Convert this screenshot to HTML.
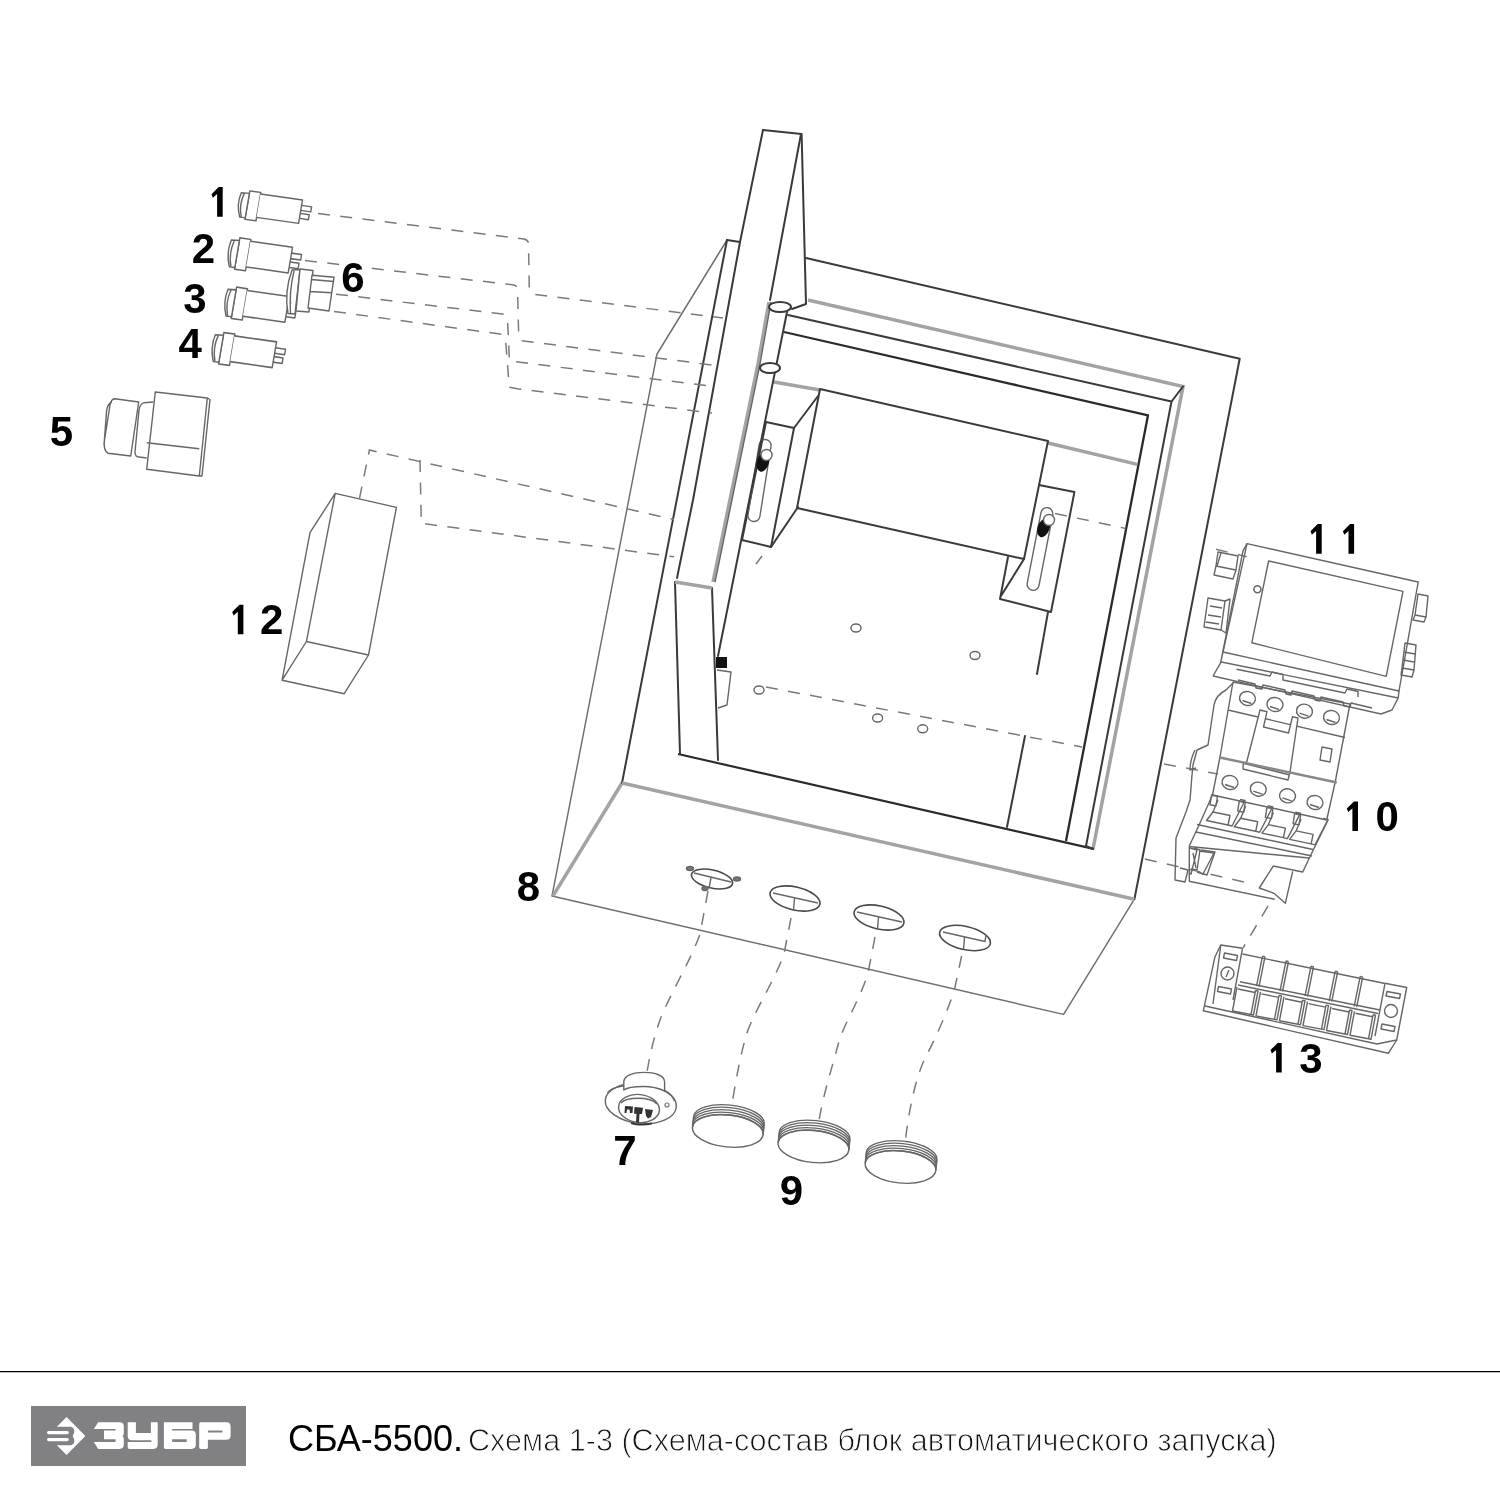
<!DOCTYPE html>
<html><head><meta charset="utf-8">
<style>
html,body{margin:0;padding:0;background:#fff;}
body{width:1500px;height:1500px;position:relative;overflow:hidden;font-family:"Liberation Sans",sans-serif;}
svg{position:absolute;left:0;top:0;will-change:transform}
.l{stroke:#3a3a3a;stroke-width:2;fill:none;stroke-linejoin:round;stroke-linecap:round}
.t{stroke:#666;stroke-width:1.4;fill:none;stroke-linejoin:round}
.k{stroke:#2a2a2a;stroke-width:2.3;fill:none;stroke-linejoin:round}
.g{stroke:#a3a3a3;stroke-width:3.5;fill:none}
.d{stroke:#7a7a7a;stroke-width:1.5;fill:none;stroke-dasharray:12 10.4}
.w{fill:#fff}
.o{stroke:#6e6e6e;stroke-width:1.45;fill:none;stroke-linejoin:round}
.n{font-family:"Liberation Sans",sans-serif;font-weight:bold;font-size:42px;fill:#000}
</style></head><body>
<svg width="1500" height="1500" viewBox="0 0 1500 1500">
<defs><filter id="bl" x="-5%" y="-5%" width="110%" height="110%"><feGaussianBlur stdDeviation="0"/></filter></defs><g>
<path class="l" d="M727,240 L740,242"/>
<path class="o" d="M727,240 L657,354 L552,896 L1063.6,1014.4 L1134.4,899.2"/>
<path class="g" d="M622,783 L553,896"/>
<path class="l" d="M727,240 L622,783"/>
<path class="l" d="M806,258 L1239.7,358.8 L1134.4,899.2"/>
<path class="g" d="M622,783 L1134.4,899.2"/>
<path class="g" d="M808,300 L1183,386.5 L1093,849"/>
<path class="l" d="M788,315 L1171.5,401.5 L1086,846"/>
<path class="k" d="M784,332 L1148,415.3 L1066,841"/>
<path class="k" d="M678,754 L1093.6,848.8"/>
<path class="l" d="M675,582 L680,754 M712,588 L718,760"/>
<path class="g" d="M774,382 L820,390 M1048,443 L1137.3,464.4"/>
<path class="l" d="M820,389 L1048,441 L1024,559 L797,508 Z"/>
<path class="l" d="M818,396 L794,428 M798,507 L771,547"/>
<path class="l" d="M766,422 L794,428 L771,547 L742,540 Z"/>
<rect class="t" x="-6" y="-41.5" width="12" height="83" rx="6" transform="translate(759.5,480.5) rotate(9)"/>
<path class="l" d="M1039,485 L1074.4,492.1 L1051,612 L1000,599 L1008,557 M1024,559 L1001,596 M1048,612 L1037,674"/>
<rect class="t" x="-6" y="-42" width="12" height="84" rx="6" transform="translate(1040,549) rotate(11)"/>
<path class="l" d="M763,130 L801.6,134 L806,304 L792,309"/>
<path class="l" d="M763,130 L740,242 L693,500 L677,578"/>
<path class="l" d="M801,134 L770,300"/>
<path class="g" d="M675,582 L712,588"/>
<path class="g" d="M769,302 L758,364 L713,582"/>
<path class="t" d="M771,302 L760,364 L715,582"/>
<path class="l" d="M787,312 L718,656"/>
<ellipse class="l w" cx="780" cy="307" rx="11" ry="5"/>
<ellipse class="l w" cx="770" cy="368" rx="10" ry="5"/>
<rect x="716" y="657" width="11" height="11" fill="#111"/>
<path class="t" d="M717,670 L731,672 L727,705 L718,708"/>
<ellipse cx="763" cy="462" rx="6" ry="10" fill="#111" transform="rotate(17 763 462)"/>
<circle cx="766.5" cy="455" r="5.5" class="t w"/>
<ellipse cx="1043.5" cy="528" rx="6" ry="9.5" fill="#111" transform="rotate(20 1043.5 528)"/>
<circle cx="1049" cy="520" r="5.5" class="t w"/>
<path class="l" d="M1025,736 L1007,827"/>
<g class="t">
<ellipse cx="856" cy="628" rx="5" ry="4"/>
<ellipse cx="975" cy="655.5" rx="5" ry="4"/>
<ellipse cx="877.6" cy="718" rx="5" ry="4"/>
<ellipse cx="922.7" cy="728.8" rx="5" ry="4"/>
<ellipse cx="759" cy="690" rx="5" ry="4"/>
</g>
<g class="l" style="stroke:#4a4a4a;stroke-width:1.6">
<ellipse cx="712" cy="879" rx="21" ry="9" transform="rotate(13 712 879)"/>
<ellipse cx="795" cy="898.5" rx="25.5" ry="11.5" transform="rotate(13 795 898.5)"/>
<ellipse cx="879" cy="917.5" rx="25.5" ry="11.5" transform="rotate(13 879 917.5)"/>
<ellipse cx="965" cy="938" rx="26" ry="11.5" transform="rotate(13 965 938)"/>
</g>
<g class="t" stroke="#444">
<path d="M773,893 L818,903 M794.5,898.5 L793.5,910"/>
<path d="M857,912 L902,922 M878.5,917.5 L877.5,929"/>
<path d="M943,932 L985,941.5 L986,935 M964.5,937.5 L963.5,949"/>
<path d="M694,873 L731,882 M711,878 L709,888"/>
<ellipse cx="690" cy="868.5" rx="3.5" ry="2" fill="#777"/><ellipse cx="737" cy="879" rx="3.5" ry="2" fill="#777"/><ellipse cx="705" cy="888.5" rx="3" ry="2" fill="#777"/>
</g>
<path class="l" d="M1171.5,401.5 L1183,386.5 M1086,846 L1093,849"/>

<path class="d" d="M318,213.5 L524,239 Q528.5,240 528.5,244 L529.3,289 L532,294 L723,318" />
<path class="d" d="M305,260.5 L514,285 Q517.5,286 517.5,290 L518.7,336 L521.3,340.7 L712,365" />
<path class="d" d="M336,294.2 L502.7,314 Q507,315 507.5,319 L509.3,358 L509.5,361 L714,386.5" />
<path class="d" d="M334,311.5 L500,334 Q505,335 505.5,339 L509.3,387.3 L517.3,388.7 L712,413" />
<path class="d" d="M359.5,498.4 L369.4,450 L674,519.5" />
<path class="d" d="M420,460 L421.3,523.3 L674,556.8" />
<path class="d" d="M766,687 L1082,747" />
<path class="d" d="M1164,764 L1218,774" />
<path class="d" d="M1055,513.5 L1125.6,528.4" />
<path class="d" d="M1216,549.3 L1246.7,556.7" />
<path class="d" d="M1145,859 L1248,883" />
<path class="d" d="M1268,906 L1243,948" />
<path class="d" d="M756,564 L762,556" />
<path class="d" d="M708,891 L700,934 C692,958 667,1000 660,1020 C653,1040 650,1055 647,1072" />
<path class="d" d="M791,918 L784,954 C775,980 752,1015 746,1036 C740,1057 736,1080 732,1104" />
<path class="d" d="M875,937 L868,973 C860,1000 843,1025 838,1045 C832,1068 823,1095 819,1121" />
<path class="d" d="M961.6,956 L954.4,990 C948,1010 935,1040 925,1058 C915,1080 909,1110 905.3,1141" />
<defs>
<g id="lamp">
<path class="w" d="M8,-3 L19,-3 L19,25.5 L8,25.5 Z"/>
<path class="w" d="M0,0 L8,-0.5 L8,24 L2.5,24 Q-3,12 0,0 Z M3,0.5 Q-0.5,12 4,23.5"/>
<path class="w" d="M19,-1.4 L61,-1.4 L61,22 L19,22"/>
<path d="M61,4 L71,4 L71,9 L61,9 M61,12 L70,12 L70,17 L61,17"/>
</g>
</defs>
<g class="t">
<use href="#lamp" transform="matrix(1,0.143,-0.17,1,241.3,192.7)"/>
<use href="#lamp" transform="matrix(1,0.143,-0.17,1,231.3,240) scale(1,1.1)"/>
<use href="#lamp" transform="matrix(1,0.143,-0.17,1,228,289.3) scale(1,1.1)"/>
<use href="#lamp" transform="matrix(1,0.143,-0.17,1,215.3,334.7) scale(1,1.1)"/>
</g>
<g class="t">
<path class="w" d="M292,270 L300,269.5 L295,314 L288,313.5 Q284,292 292,270 Z M294,271 Q289,292 290.5,313"/>
<path class="w" d="M300,269 L313,270.5 L309,312 L296,311 Z"/>
<path class="w" d="M312,275.3 L334,277.3 L329,311 L308,308 Z M311.5,279.5 L333.5,281.5 M310,291.5 L331.5,292.8"/>
</g>
<g class="t">
<path d="M114.7,398.7 L138.7,402 L130.7,456 L108,453.3 Q103,450 104.5,440 L110,405 Q111,399 114.7,398.7 Z M112,402 Q107,404 106.5,412 L104,445"/>
<path d="M144,402.7 L153.3,402 M144,402.7 Q140,404 139,410 L135,452 Q135,457 139,457 L146.7,458"/>
<path d="M155.3,392 L207.3,398 L199.3,476 L146.7,469.3 L155.3,392 Z M207.3,398 L210,399.5 L202,476 L199.3,476 M146.7,442.7 L199.3,448.7"/>
</g>
<path class="t" d="M335.2,493.4 L396.4,507.4 L368.5,655 L306.4,641.5 Z M335.2,493.4 L310,532.6 L282.1,680.2 L306.4,641.5 M282.1,680.2 L344.2,693.7 L368.5,655"/>

<path d="M0,0 L-5.6,0 L-5.6,-22.6 L-9.8,-18.9 L-11.2,-22.4 L-4,-29.6 L0,-29.6 Z" transform="translate(222.7,216.7)" fill="#000"/>
<text class="n" x="191.8" y="263.3">2</text>
<text class="n" x="183.2" y="312.7">3</text>
<text class="n" x="178.5" y="358.0">4</text>
<text class="n" x="49.8" y="446.0">5</text>
<text class="n" x="341.2" y="292.0">6</text>
<text class="n" x="613.2" y="1165.3">7</text>
<text class="n" x="516.7" y="900.6">8</text>
<text class="n" x="779.8" y="1205.3">9</text>
<path d="M0,0 L-5.6,0 L-5.6,-22.6 L-9.8,-18.9 L-11.2,-22.4 L-4,-29.6 L0,-29.6 Z" transform="translate(1358,831)" fill="#000"/>
<text class="n" x="1375.5" y="831.0">0</text>
<path d="M0,0 L-5.6,0 L-5.6,-22.6 L-9.8,-18.9 L-11.2,-22.4 L-4,-29.6 L0,-29.6 Z" transform="translate(1321.7,553.7)" fill="#000"/>
<path d="M0,0 L-5.6,0 L-5.6,-22.6 L-9.8,-18.9 L-11.2,-22.4 L-4,-29.6 L0,-29.6 Z" transform="translate(1354.1,553.7)" fill="#000"/>
<path d="M0,0 L-5.6,0 L-5.6,-22.6 L-9.8,-18.9 L-11.2,-22.4 L-4,-29.6 L0,-29.6 Z" transform="translate(243.4,634.3)" fill="#000"/>
<text class="n" x="259.9" y="634.3">2</text>
<path d="M0,0 L-5.6,0 L-5.6,-22.6 L-9.8,-18.9 L-11.2,-22.4 L-4,-29.6 L0,-29.6 Z" transform="translate(1281.7,1072.5)" fill="#000"/>
<text class="n" x="1299.3" y="1072.5">3</text><g class="t" stroke="#666" stroke-width="1.25">
<path class="t" d="M1247.0,543.6 L1418.2,582.0 L1399.0,691.0 L1223.0,652.0 Z" />
<path class="t" d="M1268.6,561.0 L1403.0,591.4 L1386.2,676.4 L1251.8,642.8 Z" stroke-width="1.9" stroke="#4a4a4a"/>
<path d="M1243,550.8 L1247,543.6 M1243,550.8 L1220.6,662.8 L1223,652 M1221.4,662 L1398.2,698 M1399,691 L1398.2,698 L1392,710 L1381,714 M1213,676 L1381,714 M1220.6,662.8 L1213,676"/>
<path d="M1236.6,669.2 L1270,676 L1272,672 L1283,674.5 L1283,680 L1345,693 L1347,689 L1358,691.5 L1358,697"/>
<path d="M1238,680 L1255,684 L1256,688 L1262,689 L1263,685 L1285,690 L1286,694 L1291,695 L1292,691 L1314,696 L1315,700 L1320,701 L1321,697 L1343,702 L1344,706 L1350,707 L1351,703 L1372,708"/>
<circle cx="1257.4" cy="589.2" r="3.5" stroke-width="1.6"/>
<path class="t" d="M1218.0,552.0 L1238.0,556.0 L1236.0,570.0 L1216.0,566.0 Z" />
<path d="M1216,566 L1214,575 L1233,579 L1236,570 M1221,553 L1217,566"/>
<path class="t" d="M1208.0,598.0 L1225.0,601.0 L1221.0,630.0 L1204.0,627.0 Z" />
<path d="M1210,606 L1222,608 M1208,615 L1221,617 M1206,622 L1219,624 M1225,601 L1230,599 L1226,633 L1221,630"/>
<path class="t" d="M1418.0,594.0 L1428.0,596.0 L1426.0,617.0 L1415.0,615.0 Z" />
<path d="M1415,615 L1413,620 L1424,622 L1426,617"/>
<path class="t" d="M1405.0,643.0 L1416.0,645.0 L1414.0,670.0 L1402.0,668.0 Z" />
<path d="M1402,668 L1401,675 L1412,677 L1414,670 M1404,652 L1415,654 M1403,660 L1414,662"/>
</g>
<g class="t" stroke="#666" stroke-width="1.25">
<path d="M1233,682 L1350,704 M1233,682 L1220,757 L1212.5,795 M1350,704 L1335,783 L1326.7,820"/>
<ellipse cx="1247.5" cy="698.5" rx="8" ry="7" transform="rotate(12 1247.5 698.5)"/>
<path d="M1242.5,700.5 L1251.5,703.5"/>
<ellipse cx="1275" cy="704.5" rx="8" ry="7" transform="rotate(12 1275 704.5)"/>
<path d="M1270,706.5 L1279,709.5"/>
<ellipse cx="1304.5" cy="711.2" rx="8" ry="7" transform="rotate(12 1304.5 711.2)"/>
<path d="M1299.5,713.2 L1308.5,716.2"/>
<ellipse cx="1331.5" cy="717.5" rx="8" ry="7" transform="rotate(12 1331.5 717.5)"/>
<path d="M1326.5,719.5 L1335.5,722.5"/>
<path d="M1228,710 L1345,737.5"/>
<path class="w" d="M1246.7,762 L1260,710 L1267,711.7 L1263.5,727 L1288.5,733 L1292.5,716.7 L1298,718 L1290,772 L1288,780 L1243,769 L1243.3,763.3 Z M1243.3,763.3 L1290,775"/>
<path d="M1220,757.5 L1336.7,782.5" stroke="#888" stroke-width="2.4"/>
<path class="t" d="M1322.0,747.0 L1332.0,749.0 L1330.0,762.0 L1320.0,760.0 Z" />
<ellipse cx="1230" cy="782.5" rx="8" ry="7" transform="rotate(12 1230 782.5)"/>
<path d="M1225,784.5 L1234,787.5"/>
<ellipse cx="1258.3" cy="789.2" rx="8" ry="7" transform="rotate(12 1258.3 789.2)"/>
<path d="M1253.3,791.2 L1262.3,794.2"/>
<ellipse cx="1287.5" cy="795.8" rx="8" ry="7" transform="rotate(12 1287.5 795.8)"/>
<path d="M1282.5,797.8 L1291.5,800.8"/>
<ellipse cx="1315" cy="802.5" rx="8" ry="7" transform="rotate(12 1315 802.5)"/>
<path d="M1310,804.5 L1319,807.5"/>
<path d="M1212.5,795 L1326.7,820"/>
<path d="M1213.0,812.0 L1230.0,815.5 L1228.0,825.0 L1206.5,820.5 Z"/>
<path d="M1240.0,799.5 L1245.0,800.5 L1232.0,826.0 L1228.0,825.0 M1213.0,812.0 L1218.0,800.0"/>
<path d="M1211.5,795.0 L1217.5,796.2 L1216.0,806.0 L1210.0,804.8 Z"/>
<path d="M1240.7,818.3 L1257.7,821.8 L1255.7,831.3 L1234.2,826.8 Z"/>
<path d="M1267.7,805.8 L1272.7,806.8 L1259.7,832.3 L1255.7,831.3 M1240.7,818.3 L1245.7,806.3"/>
<path d="M1239.2,801.3 L1245.2,802.5 L1243.7,812.3 L1237.7,811.1 Z"/>
<path d="M1268.4,824.6 L1285.4,828.1 L1283.4,837.6 L1261.9,833.1 Z"/>
<path d="M1295.4,812.1 L1300.4,813.1 L1287.4,838.6 L1283.4,837.6 M1268.4,824.6 L1273.4,812.6"/>
<path d="M1266.9,807.6 L1272.9,808.8 L1271.4,818.6 L1265.4,817.4 Z"/>
<path d="M1296.1,830.9 L1313.1,834.4 L1311.1,843.9 L1289.6,839.4 Z"/>
<path d="M1323.1,818.4 L1328.1,819.4 L1315.1,844.9 L1311.1,843.9 M1296.1,830.9 L1301.1,818.9"/>
<path d="M1294.6,813.9 L1300.6,815.1 L1299.1,824.9 L1293.1,823.7 Z"/>
<path d="M1197,824.5 L1313,849.5 M1196,832 L1312,856 M1189,846.5 L1309,858 M1328,820 L1313,850.5 L1302.7,872 L1273.3,866 M1273.3,866 L1259.3,888 L1274,893.3 L1285.3,903.3 L1292.7,871.3 M1189.3,846.7 L1189.3,881.3 L1274.7,899.3 M1212.5,795 L1198.3,826.7 L1189,846.5"/>
<path d="M1190,848 L1197,850 L1191,874 L1189,873 M1199,851 L1214,853 L1203,874 L1197,872 M1193,853 L1196,868"/>
<path d="M1234,682 L1226,690 Q1216,695 1214,705 L1208,745 L1197,750 L1193,765 L1192,775 L1190,800 L1186,812 L1176,838 L1175,880 L1185,882 L1188,870 L1180,868"/>
<path d="M1195,750 Q1190,760 1190,770 L1196,768"/>
<path d="M1194,848 L1200,850 L1197,870 L1191,869 M1201,850 L1215,852 L1207,875 L1200,873"/>
</g>
<g class="t" stroke="#666" stroke-width="1.25">
<path d="M1242.5,948.3 L1220.8,945 L1215,956.7 L1203.3,1010.8 L1388.3,1053.3 L1396.7,1040 L1406.7,987.5 L1385,983.3"/>
<path d="M1220.8,945 L1213,1004 M1242.5,948.3 L1233,1000 M1242.5,954 L1385,983.5 M1385,983.3 L1375,1036 M1205,1006 L1377,1044 L1396.7,1040"/>
<path d="M1240,981.7 L1380,1010 M1238,985 L1378,1013.5"/>
<path d="M1262.5,956.1 L1256.5,986.1 M1265.0,956.6 L1259.0,986.6 M1262.5,956.1 L1265.0,956.6"/>
<path d="M1286.0,961.0 L1280.0,991.0 M1288.5,961.5 L1282.5,991.5 M1286.0,961.0 L1288.5,961.5"/>
<path d="M1311.0,966.2 L1305.0,996.2 M1313.5,966.7 L1307.5,996.7 M1311.0,966.2 L1313.5,966.7"/>
<path d="M1335.2,971.2 L1329.2,1001.2 M1337.7,971.7 L1331.7,1001.7 M1335.2,971.2 L1337.7,971.7"/>
<path d="M1360.2,976.4 L1354.2,1006.4 M1362.7,976.9 L1356.7,1006.9 M1360.2,976.4 L1362.7,976.9"/>
<path d="M1237.0,987.0 L1232.5,1011.0 L1251.0,1014.5 L1255.5,990.5 M1255.5,990.5 L1258.0,991.0 L1253.5,1015.0 L1251.0,1014.5 M1238.0,989.0 L1255.0,992.5"/>
<path d="M1260.5,991.9 L1256.0,1015.9 L1274.5,1019.4 L1279.0,995.4 M1279.0,995.4 L1281.5,995.9 L1277.0,1019.9 L1274.5,1019.4 M1261.5,993.9 L1278.5,997.4"/>
<path d="M1284.0,996.7 L1279.5,1020.7 L1298.0,1024.2 L1302.5,1000.2 M1302.5,1000.2 L1305.0,1000.7 L1300.5,1024.7 L1298.0,1024.2 M1285.0,998.7 L1302.0,1002.2"/>
<path d="M1307.5,1001.6 L1303.0,1025.6 L1321.5,1029.1 L1326.0,1005.1 M1326.0,1005.1 L1328.5,1005.6 L1324.0,1029.6 L1321.5,1029.1 M1308.5,1003.6 L1325.5,1007.1"/>
<path d="M1331.0,1006.5 L1326.5,1030.5 L1345.0,1034.0 L1349.5,1010.0 M1349.5,1010.0 L1352.0,1010.5 L1347.5,1034.5 L1345.0,1034.0 M1332.0,1008.5 L1349.0,1012.0"/>
<path d="M1354.5,1011.3 L1350.0,1035.3 L1368.5,1038.8 L1373.0,1014.8 M1373.0,1014.8 L1375.5,1015.3 L1371.0,1039.3 L1368.5,1038.8 M1355.5,1013.3 L1372.5,1016.8"/>
<path class="t" d="M1224.5,953.0 L1237.5,955.5 L1236.5,960.5 L1223.5,958.0 Z" />
<circle cx="1227.5" cy="973.5" r="6.5"/><path d="M1226,977 L1229,970"/>
<path class="t" d="M1218.5,986.5 L1231.5,989.0 L1230.5,994.0 L1217.5,991.5 Z" />
<path class="t" d="M1387.0,991.5 L1400.5,994.0 L1399.5,998.5 L1386.0,996.0 Z" />
<circle cx="1391" cy="1011" r="6.5"/>
<path class="t" d="M1382.0,1024.0 L1395.0,1026.5 L1394.0,1031.5 L1381.0,1029.0 Z" />
</g>
<g class="t" stroke="#666" stroke-width="1.25">
<ellipse class="w" cx="640.8" cy="1103.5" rx="35.7" ry="20" transform="rotate(6 640.8 1103.5)"/>
<path d="M607.5,1093 C612,1086 628,1084.5 642,1085.5 C658,1086.5 672,1092 674.5,1101"/>
<path class="w" d="M623.8,1090 L623.8,1082 C624,1075 634,1072.4 644,1072.4 C655,1072.4 664.6,1075.5 664.6,1082 L664.6,1091 C660,1088 650,1086.5 644,1086.5 C635,1086.5 627,1087.5 623.8,1090 Z"/>
<ellipse class="w" cx="639" cy="1108.5" rx="20.5" ry="14" transform="rotate(6 639 1108.5)"/>
<path d="M621,1103 C626,1097 650,1096 657,1104"/>
</g>
<g fill="#333">
<path d="M625,1106 L633,1106.5 L632.5,1113 L630,1113 L629.5,1109.5 L627,1109.5 L626.5,1113 L624.5,1113 Z"/>
<path d="M634.5,1107 L643,1107.8 L642,1114 L639.5,1114 L639,1122.5 L636,1122.5 L636.5,1114 L634,1113.5 Z"/>
<path d="M645,1109 L653,1110 L651,1117 L648,1118.5 L646,1116 Z"/>
<path d="M631,1122 C637,1124.5 645,1124.5 652,1122.5 L651.5,1124.5 C645,1126 637,1126 631,1124 Z"/>
<circle cx="667" cy="1105" r="2" fill="none" stroke="#777" stroke-width="1.2"/>
</g>
<g class="t" stroke="#666" stroke-width="1.25" transform="translate(728.3,1126) rotate(6)"><path d="M-35.5,-6 A35.5,15 0 0 1 35.5,-6"/><path d="M-35.5,-3.5 A35.5,15 0 0 1 35.5,-3.5"/><path d="M-35.5,-1 A35.5,15 0 0 1 35.5,-1"/><path d="M-35.5,1.5 A35.5,15 0 0 1 35.5,1.5"/><path d="M-35.5,4 A35.5,15 0 0 1 35.5,4"/><path d="M-35.5,-6 L-35.5,5 M35.5,-6 L35.5,5"/><ellipse cx="0" cy="5" rx="35.5" ry="16"/></g>
<g class="t" stroke="#666" stroke-width="1.25" transform="translate(814,1141.5) rotate(6)"><path d="M-35.5,-6 A35.5,15 0 0 1 35.5,-6"/><path d="M-35.5,-3.5 A35.5,15 0 0 1 35.5,-3.5"/><path d="M-35.5,-1 A35.5,15 0 0 1 35.5,-1"/><path d="M-35.5,1.5 A35.5,15 0 0 1 35.5,1.5"/><path d="M-35.5,4 A35.5,15 0 0 1 35.5,4"/><path d="M-35.5,-6 L-35.5,5 M35.5,-6 L35.5,5"/><ellipse cx="0" cy="5" rx="35.5" ry="16"/></g>
<g class="t" stroke="#666" stroke-width="1.25" transform="translate(901,1162) rotate(6)"><path d="M-35.5,-6 A35.5,15 0 0 1 35.5,-6"/><path d="M-35.5,-3.5 A35.5,15 0 0 1 35.5,-3.5"/><path d="M-35.5,-1 A35.5,15 0 0 1 35.5,-1"/><path d="M-35.5,1.5 A35.5,15 0 0 1 35.5,1.5"/><path d="M-35.5,4 A35.5,15 0 0 1 35.5,4"/><path d="M-35.5,-6 L-35.5,5 M35.5,-6 L35.5,5"/><ellipse cx="0" cy="5" rx="35.5" ry="16"/></g>
</g><!--FOOTER_MARK-->
<line x1="0" y1="1371.6" x2="1500" y2="1371.6" stroke="#000" stroke-width="1.25"/>
<rect x="31" y="1406" width="215" height="60" fill="#808085"/>
<text x="288" y="1450.7" font-family="Liberation Sans" font-size="36" fill="#000">СБА-5500.</text>
<text x="468" y="1450.7" font-family="Liberation Sans" font-size="30.62" fill="#111" stroke="#fff" stroke-width="0.9">Схема 1-3 (Схема-состав блок автоматического запуска)</text>

<g fill="#fff">
<path d="M66.6,1417 L85.4,1436 L66.6,1455 L56.8,1445.2 L69.6,1445.2 C73,1445.2 74.5,1443 74.3,1440.4 C74.2,1438.5 73,1437 72.8,1436 C73,1435 74.2,1433.5 74.3,1431.6 C74.5,1429 73,1426.8 69.6,1426.8 L56.8,1426.8 Z"/>
<rect x="47" y="1431" width="21.8" height="3.2" rx="1.6"/><rect x="47" y="1438" width="21.8" height="3.2" rx="1.6"/>
<path d="M98.2,1422.3 L119.5,1422.3 Q123.8,1422.3 123.8,1426.5 L123.8,1433 Q123.8,1435.5 122.5,1436 Q123.8,1436.8 123.8,1439 L123.8,1444.6 Q123.8,1448.9 119.5,1448.9 L98.2,1448.9 L93.9,1442.1 L115.6,1442.1 L115.6,1439.2 L104,1439.2 L104,1430.5 L115.6,1430.5 L115.6,1429 L93.9,1429 Z"/>
<path d="M127.7,1422.3 L135.9,1422.3 L135.9,1432.9 L150.9,1432.9 L150.9,1422.3 L157.7,1422.3 L157.7,1444.6 Q157.7,1448.9 153.4,1448.9 L129.5,1448.9 Q127.7,1448.9 127.7,1447 L127.7,1442.1 L151.4,1442.1 L151.4,1440.2 L132,1440.2 Q127.7,1440.2 127.7,1436 Z"/>
<path fill-rule="evenodd" d="M163.9,1422.3 L192.5,1422.3 L192.5,1429 L172.2,1429 L172.2,1430.5 L191.5,1430.5 Q195.8,1430.5 195.8,1434.8 L195.8,1444.6 Q195.8,1448.9 191.5,1448.9 L165.5,1448.9 Q163.9,1448.9 163.9,1447.3 Z M172.2,1439.2 L186.7,1439.2 L186.7,1442.1 L172.2,1442.1 Z"/>
<path fill-rule="evenodd" d="M199.2,1423.9 Q199.2,1422.3 200.8,1422.3 L226.3,1422.3 Q230.6,1422.3 230.6,1426.6 L230.6,1435.4 Q230.6,1439.7 226.3,1439.7 L207.9,1439.7 L207.9,1447.3 Q207.9,1448.9 206.3,1448.9 L200.8,1448.9 Q199.2,1448.9 199.2,1447.3 Z M207.9,1430.5 L222.4,1430.5 L222.4,1432.4 L207.9,1432.4 Z"/>
</g></svg>
</body></html>
